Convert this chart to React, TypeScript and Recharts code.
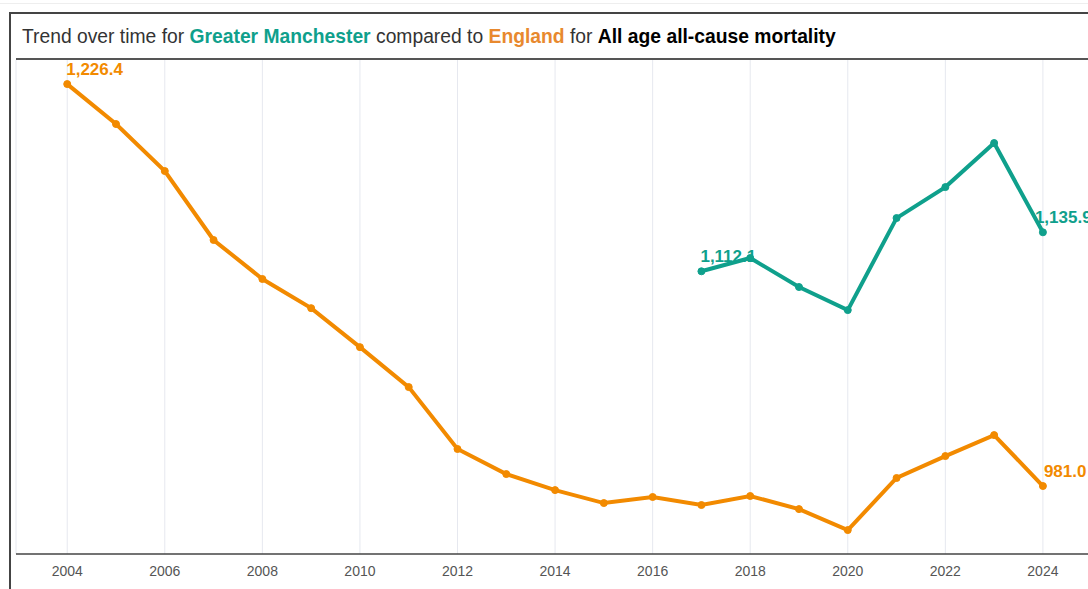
import { LineChart, Line, XAxis, YAxis, CartesianGrid, LabelList } from "recharts"

const years = [2004, 2005, 2006, 2007, 2008, 2009, 2010, 2011, 2012, 2013, 2014, 2015, 2016, 2017, 2018, 2019, 2020, 2021, 2022, 2023, 2024]
const england = [1226.4, 1202.0, 1173.3, 1131.2, 1107.4, 1089.6, 1065.8, 1041.4, 1003.6, 988.3, 978.5, 970.6, 974.3, 969.4, 974.9, 966.9, 954.1, 985.9, 999.3, 1012.1, 981.0]
const manchester = [null, null, null, null, null, null, null, null, null, null, null, null, null, 1112.1, 1120.2, 1102.5, 1088.4, 1144.6, 1163.5, 1190.4, 1135.9]
const xTicks = [2004, 2006, 2008, 2010, 2012, 2014, 2016, 2018, 2020, 2022, 2024]

const data = years.map((year, i) => ({ year, england: england[i], manchester: manchester[i] }))

const ORANGE = "#f28a00"
const TEAL = "#0fa08c"

const fmt = (v: number) => v.toLocaleString("en-GB", { minimumFractionDigits: 1, maximumFractionDigits: 1 })

// only label first and last point of a series
const endLabel = (values: (number | null)[], color: string, lastDx: number) => (props: any) => {
  const { x, y, index, value } = props
  const filled = values.map((v, i) => (v == null ? -1 : i)).filter((i) => i >= 0)
  const isFirst = index === filled[0]
  const isLast = index === filled[filled.length - 1]
  if (!isFirst && !isLast) return null
  if (value == null) return null
  return (
    <text
      x={x + (isLast ? lastDx : -1)}
      y={y - 9}
      fill={color}
      fontSize={17}
      fontWeight="bold"
      fontFamily="Liberation Sans, Arial, sans-serif"
    >
      {fmt(value)}
    </text>
  )
}

export default function App() {
  return (
    <div style={{ position: "fixed", left: 0, top: 0, width: 1088, height: 589, overflow: "hidden", background: "#fff" }}>
      <div style={{ position: "absolute", left: 0, right: 0, top: 3, borderTop: "1px solid #eee" }} />
      <div style={{ position: "absolute", left: 9, top: 12, width: 1200, height: 700, border: "2px solid #444" }} />
      <div
        style={{
          position: "absolute",
          left: 22,
          top: 26,
          fontFamily: "Liberation Sans, Arial, sans-serif",
          fontSize: 19.3,
          color: "#333",
          whiteSpace: "nowrap",
        }}
      >
        Trend over time for <b style={{ color: TEAL }}>Greater Manchester</b> compared to{" "}
        <b style={{ color: "#e8892e" }}>England</b> for <b style={{ color: "#000" }}>All age all-cause mortality</b>
      </div>
      <div style={{ position: "absolute", left: 16, width: 1200, top: 58, borderTop: "2px solid #555" }} />
      <div style={{ position: "absolute", left: 0, top: 0 }}>
        <LineChart width={1120} height={589} data={data} margin={{ top: 60, right: 0, left: 16, bottom: 0 }}>
          <CartesianGrid horizontal={false} stroke="#e6e8ef" />
          <XAxis
            dataKey="year"
            type="number"
            domain={[2002.95, 2025.58]}
            ticks={xTicks}
            height={35}
            tickLine={false}
            tickMargin={6}
            axisLine={{ stroke: "#444", strokeWidth: 1.5 }}
            tick={{ fill: "#555", fontSize: 14, fontFamily: "Liberation Sans, Arial, sans-serif" }}
            allowDataOverflow
          />
          <YAxis hide domain={[939.5, 1241.1]} allowDataOverflow />
          <Line
            dataKey="england"
            stroke={ORANGE}
            strokeWidth={4}
            dot={{ r: 3.5, fill: ORANGE, stroke: ORANGE, strokeWidth: 1 }}
            isAnimationActive={false}
          >
            <LabelList dataKey="england" content={endLabel(england, ORANGE, 1)} />
          </Line>
          <Line
            dataKey="manchester"
            stroke={TEAL}
            strokeWidth={4}
            dot={{ r: 3.5, fill: TEAL, stroke: TEAL, strokeWidth: 1 }}
            isAnimationActive={false}
          >
            <LabelList dataKey="manchester" content={endLabel(manchester, TEAL, -8)} />
          </Line>
        </LineChart>
      </div>
    </div>
  )
}
